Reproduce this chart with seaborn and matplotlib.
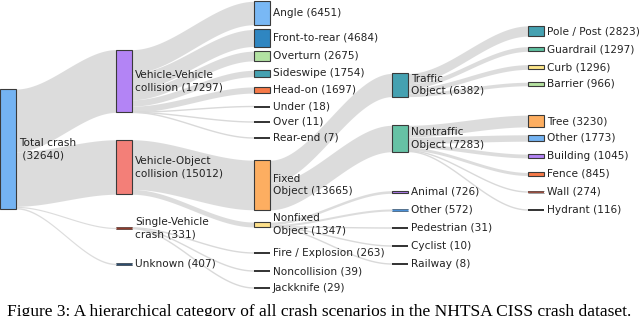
import numpy as np
import matplotlib.pyplot as plt
import seaborn as sns
from matplotlib.patches import Rectangle

####################################
# crash categories (one entry per node), parent index builds the hierarchy
labels = [
    "Total crash",
    "Vehicle-Vehicle\ncollision", "Vehicle-Object\ncollision", "Single-Vehicle\ncrash", "Unknown",
    "Angle", "Front-to-rear", "Overturn", "Sideswipe", "Head-on", "Under", "Over", "Rear-end",
    "Fixed\nObject", "Nonfixed\nObject", "Fire / Explosion", "Noncollision", "Jackknife",
    "Traffic\nObject", "Nontraffic\nObject",
    "Animal", "Other", "Pedestrian", "Cyclist", "Railway",
    "Pole / Post", "Guardrail", "Curb", "Barrier",
    "Tree", "Other", "Building", "Fence", "Wall", "Hydrant",
]
values = [
    32640,
    17297, 15012, 331, 407,
    6451, 4684, 2675, 1754, 1697, 18, 11, 7,
    13665, 1347, 263, 39, 29,
    6382, 7283,
    726, 572, 31, 10, 8,
    2823, 1297, 1296, 966,
    3230, 1773, 1045, 845, 274, 116,
]
parents = [
    None,
    0, 0, 0, 0,
    1, 1, 1, 1, 1, 1, 1, 1,
    2, 2, 3, 3, 3,
    13, 13,
    14, 14, 14, 14, 14,
    18, 18, 18, 18,
    19, 19, 19, 19, 19, 19,
]

# layout (plotly-like fixed arrangement): vertical centre of each node, pixels from top
node_y = [
    149,
    81, 167, 228, 264,
    13, 38, 56, 73.5, 90, 106.5, 122, 138,
    185, 224.5, 253, 271, 288,
    85, 138.5,
    192, 210, 228, 246, 264,
    31, 49, 67, 84,
    121, 138, 156, 174, 192, 210,
]
col_x = [0, 116, 254, 392, 528]
node_w = 16

colors = [
    "#74b3f2",
    "#b384f5", "#f37f78", "#8e3b2c", "#2d4d6e",
    "#79b8f5", "#2f86c1", "#b2e2a2", "#45a1b1", "#f77a48", "#222222", "#222222", "#222222",
    "#fdae61", "#fde08a", "#222222", "#222222", "#222222",
    "#45a1b1", "#66c2a5",
    "#b07cf2", "#4a8fd6", "#222222", "#222222", "#222222",
    "#45a1b1", "#5fc0a0", "#fde68a", "#b5e2a0",
    "#fdae61", "#74b3f2", "#b384f5", "#f77a48", "#8e3b2c", "#222222",
]
####################################

n = len(labels)
children = [[j for j in range(n) if parents[j] == i] for i in range(n)]
depth = [0] * n
for i in range(n):
    p = parents[i]
    while p is not None:
        depth[i] += 1
        p = parents[p]

# node size: max of own value and outgoing flow
flow = [max(values[i], sum(values[c] for c in children[i])) for i in range(n)]
scale = 120 / flow[0]
height = [f * scale for f in flow]

sns.set_theme(style='white')
plt.rcParams['font.family'] = ['DejaVu Sans']

fig = plt.figure(figsize=(6.4, 3.16), dpi=100)
ax = fig.add_axes([0, 0, 1, 1])
ax.set_xlim(0, 640)
ax.set_ylim(316, 0)
ax.axis('off')

link_color = '#d9d9d9'
t = np.linspace(0, 1, 60)
s = 3 * t ** 2 - 2 * t ** 3

# links
for i in range(n):
    if not children[i]:
        continue
    x0 = col_x[depth[i]] + node_w
    y_src = node_y[i] - height[i] / 2
    for c in children[i]:
        h = values[c] * scale
        x1 = col_x[depth[c]]
        ys = y_src + h / 2
        yt = node_y[c]
        xs = x0 + (x1 - x0) * t
        yc = ys + (yt - ys) * s
        if h < 1.2:
            ax.plot(xs, yc, color=link_color, lw=1.0, solid_capstyle='butt', zorder=1)
        else:
            ax.fill_between(xs, yc - h / 2, yc + h / 2, color=link_color,
                            lw=0, alpha=0.9, zorder=1)
        y_src += h

# nodes + labels
for i in range(n):
    x = col_x[depth[i]]
    h = height[i]
    if h < 2.5:
        ax.plot([x, x + node_w], [node_y[i], node_y[i]], color=colors[i], lw=2.0 if h > 1 else 1.3,
                solid_capstyle='butt', zorder=3)
        if colors[i] != '#222222':
            ax.plot([x, x + node_w], [node_y[i] - 1.1, node_y[i] - 1.1], color='#555555', lw=0.4, zorder=3)
            ax.plot([x, x + node_w], [node_y[i] + 1.1, node_y[i] + 1.1], color='#555555', lw=0.4, zorder=3)
    else:
        ax.add_patch(Rectangle((x, node_y[i] - h / 2), node_w, h, facecolor=colors[i],
                               edgecolor='#3a3a3a', lw=0.8, zorder=3))
    lab = labels[i] + (" (%d)" % values[i])
    if i == 0:
        lab = "Total crash\n (%d)" % values[i]
    ax.text(x + node_w + 3, node_y[i], lab, va='center', ha='left', fontsize=7.6,
            color='#222222', linespacing=1.3, zorder=4)

caption = "Figure 3: A hierarchical category of all crash scenarios in the NHTSA CISS crash dataset."
ax.text(7, 304, caption, va='top', ha='left', fontsize=12.5, color='black',
        family=['Liberation Serif', 'DejaVu Serif'])

plt.savefig('out.png', dpi=100)
